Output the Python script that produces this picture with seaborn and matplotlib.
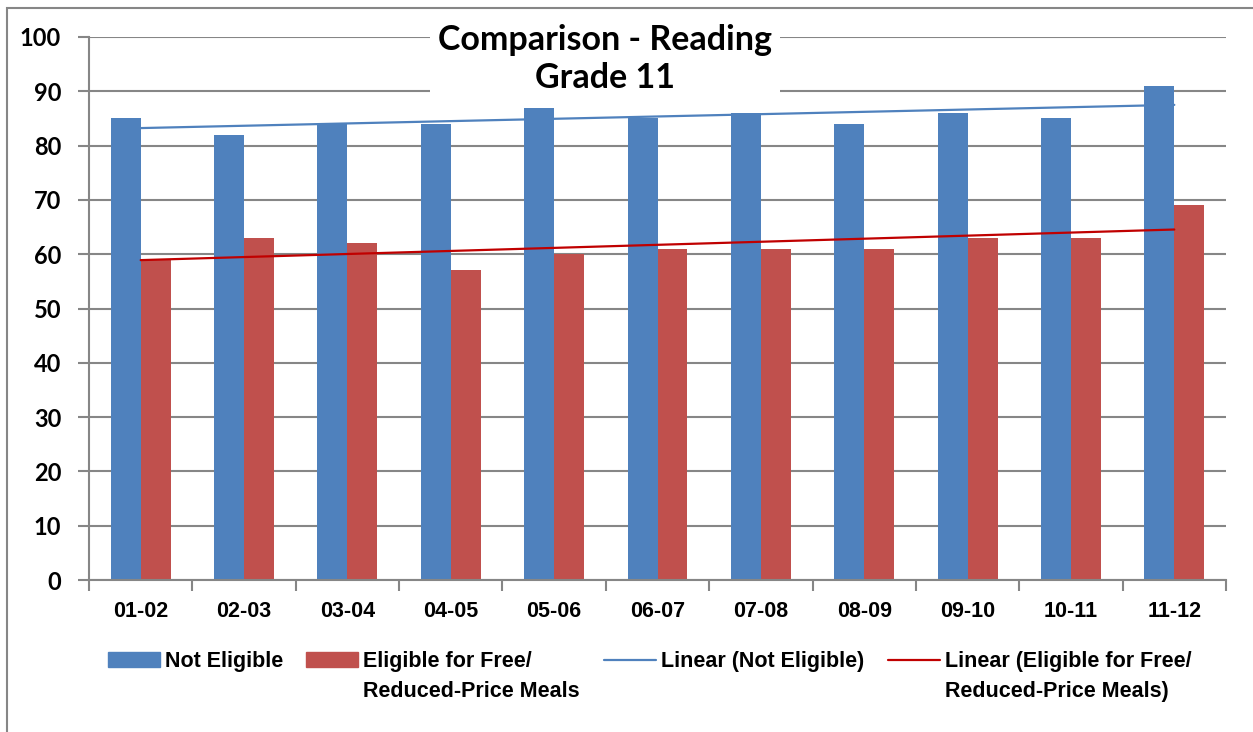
import numpy as np
import pandas as pd
import matplotlib
matplotlib.use("Agg")
import matplotlib.pyplot as plt
import seaborn as sns
from matplotlib.patches import Patch, Rectangle
from matplotlib.lines import Line2D

# data
years = ['01-02', '02-03', '03-04', '04-05', '05-06', '06-07',
         '07-08', '08-09', '09-10', '10-11', '11-12']
not_eligible = [85, 82, 84, 84, 87, 85, 86, 84, 86, 85, 91]
eligible = [59, 63, 62, 57, 60, 61, 61, 61, 63, 63, 69]
names = ['Not Eligible', 'Eligible for Free/Reduced-Price Meals']

BLUE = '#4F81BD'
RED = '#C0504D'
TREND_RED = '#C00000'
GRID = '#868686'

df = pd.DataFrame({
    'year': years * 2,
    'score': not_eligible + eligible,
    'group': [names[0]] * len(years) + [names[1]] * len(years),
})

sns.set_theme(style='white')
plt.rcParams['font.family'] = ['Lato', 'DejaVu Sans']
plt.rcParams['text.color'] = 'black'
narrow = ['Liberation Sans', 'DejaVu Sans']
SMALL = 15.5

W, H = 1253, 732
fig = plt.figure(figsize=(W / 100, H / 100), dpi=100)
ax = fig.add_axes([89 / W, 1 - 580 / H, (1226 - 89) / W, (580 - 37) / H])

sns.barplot(data=df, x='year', y='score', hue='group', palette=[BLUE, RED],
            width=0.58, saturation=1, gap=0, linewidth=0, legend=False,
            ax=ax, zorder=2)

# linear trendlines (least squares through the category positions)
xs = np.arange(len(years))
for vals, col in [(not_eligible, BLUE), (eligible, TREND_RED)]:
    k, b = np.polyfit(xs, vals, 1)
    ax.plot(xs, k * xs + b, color=col, lw=1.6, zorder=3)

ax.set_xlim(-0.5, len(years) - 0.5)
ax.set_ylim(0, 100)
ax.set_yticks(range(0, 101, 10))
ax.set_xticks(xs)
ax.set_xticklabels(years)
ax.set_xticks(np.arange(-0.5, len(years), 1), minor=True)
ax.set_xlabel('')
ax.set_ylabel('')

ax.yaxis.grid(True, color=GRID, lw=1.5)
ax.set_axisbelow(True)
for s in ['top', 'right']:
    ax.spines[s].set_visible(False)
for s in ['left', 'bottom']:
    ax.spines[s].set_color(GRID)
    ax.spines[s].set_linewidth(1.5)

ax.tick_params(axis='y', length=8, width=1.5, color=GRID, pad=12, left=True)
ax.tick_params(axis='x', which='major', length=0, pad=15)
ax.tick_params(axis='x', which='minor', length=8, width=1.5, color=GRID,
               direction='out', bottom=True)
for lab in ax.get_yticklabels():
    lab.set_fontsize(17)
    lab.set_fontweight('bold')
    lab.set_color('black')
for lab in ax.get_xticklabels():
    lab.set_fontsize(SMALL)
    lab.set_fontweight('bold')
    lab.set_family(narrow)
    lab.set_color('black')

# chart border (partly cropped in the reference)
fig.add_artist(Rectangle((7 / W, -0.1), 1.2, 1 - 8 / H + 0.1,
                         transform=fig.transFigure, fc='none', ec=GRID, lw=1.5))

# title box on top of the gridlines
fig.text(605 / W, 1 - 59 / H, 'Comparison - Reading\nGrade 11',
         ha='center', va='center', fontsize=24.5, fontweight='bold',
         linespacing=1.22,
         bbox=dict(fc='white', ec='none', pad=6))

# legend: four entries, long labels wrap onto a second line
entries = [
    (Patch(color=BLUE), 'Not Eligible', None, 108),
    (Patch(color=RED), 'Eligible for Free/', 'Reduced-Price Meals', 306),
    (Line2D([], [], color=BLUE, lw=1.6), 'Linear (Not Eligible)', None, 604),
    (Line2D([], [], color=TREND_RED, lw=1.6), 'Linear (Eligible for Free/',
     'Reduced-Price Meals)', 888),
]
legs = []
for handle, first, second, px in entries:
    leg = fig.legend([handle], [first], loc='upper left',
                     bbox_to_anchor=(px / W, 1 - 651 / H), frameon=False,
                     borderpad=0, borderaxespad=0, handlelength=2.4,
                     handleheight=0.65, handletextpad=0.27,
                     prop={'family': narrow, 'weight': 'bold', 'size': SMALL})
    legs.append((leg, second))

fig.canvas.draw()
renderer = fig.canvas.get_renderer()
for leg, second in legs:
    if second is None:
        continue
    bb = leg.get_texts()[0].get_window_extent(renderer)
    fig.text(bb.x0 / W, (bb.y1 - 30) / H, second, ha='left', va='top',
             family=narrow, weight='bold', fontsize=SMALL)

fig.savefig('out.png', dpi=100)
